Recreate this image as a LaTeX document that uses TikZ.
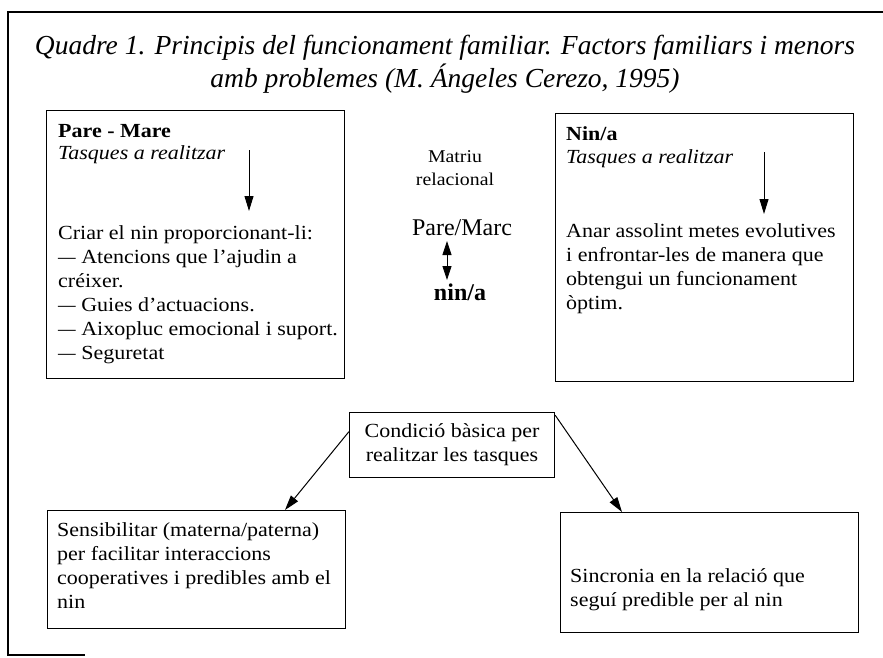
\documentclass[tikz,border=0pt]{standalone}
\usepackage{fontspec}
\usepackage{graphicx}
\setmainfont{Liberation Serif}
\newfontfamily\bodyfont[FakeStretch=1.1]{Liberation Serif}
\newcommand\mydash{\scalebox{0.8}[1]{—}}
\usetikzlibrary{arrows.meta,calc}
\begin{document}
\begin{tikzpicture}[x=1pt,y=-1pt,
  box/.style={draw,line width=1.3pt,inner sep=0pt,anchor=north west},
  body/.style={font=\bodyfont\fontsize{20}{24}\selectfont,align=left,inner sep=0pt,anchor=base west},
  arr/.style={-{Triangle[length=15pt,width=9pt]},line width=1pt},
  darr/.style={{Triangle[length=14pt,width=9pt]}-{Triangle[length=14pt,width=9pt]},line width=0.8pt},
]
\useasboundingbox (0,0) rectangle (883,658);
% outer frame
\draw[line width=1.3pt] (883,12) -- (8,12) -- (8,655) -- (85,655);
% title
\node[font=\fontsize{27.5}{33}\selectfont\itshape,align=center,inner sep=0pt] (title) at (445,64)
  {Quadre 1. Principis del funcionament familiar. Factors familiars i menors\\amb problemes (M. Ángeles Cerezo, 1995)};
% top left box
\node[box,minimum width=298pt,minimum height=268pt] (lbox) at (46,110) {};
\node[body,font=\bodyfont\fontsize{20}{23}\selectfont] (lhead) at (58,160) {\textbf{Pare - Mare}\\\textit{Tasques a realitzar}};
\node[body] (llist) at (58,359) {Criar el nin proporcionant-li:\\\mydash{} Atencions que l’ajudin a\\créixer.\\\mydash{} Guies d’actuacions.\\\mydash{} Aixopluc emocional i suport.\\\mydash{} Seguretat};
\coordinate (la1) at (249,150);
\coordinate (la2) at (249,211);
\draw[arr] (la1) -- (la2);
% top right box
\node[box,minimum width=298pt,minimum height=268pt] (rbox) at (555,113) {};
\node[body,font=\bodyfont\fontsize{20}{23}\selectfont] (rhead) at (566,163) {\textbf{Nin/a}\\\textit{Tasques a realitzar}};
\node[body] (rlist) at (566,309) {Anar assolint metes evolutives\\i enfrontar-les de manera que\\obtengui un funcionament\\òptim.};
\coordinate (ra1) at (764,152);
\coordinate (ra2) at (764,214);
\draw[arr] (ra1) -- (ra2);
% middle
\node[font=\bodyfont\fontsize{18}{23}\selectfont,align=center,inner sep=0pt] (matriu) at (455,168) {Matriu\\relacional};
\node[font=\fontsize{24}{28}\selectfont,inner sep=0pt] (pare) at (462,228) {Pare/Marc};
\node[font=\fontsize{24}{28}\selectfont\bfseries,inner sep=0pt] (nina) at (460,292) {nin/a};
\coordinate (d1) at (447,241);
\coordinate (d2) at (447,280);
\draw[darr] (d1) -- (d2);
% condition box
\node[draw,line width=1.3pt,font=\bodyfont\fontsize{20}{24}\selectfont,align=center,minimum width=205pt,minimum height=65pt,inner sep=0pt] (cond) at (452,445)
  {Condició bàsica per\\realitzar les tasques};
% bottom boxes
\node[box,minimum width=298pt,minimum height=118pt] (blbox) at (47,510) {};
\node[body] (bltext) at (57,608) {Sensibilitar (materna/paterna)\\per facilitar interaccions\\cooperatives i predibles amb el\\nin};
\node[box,minimum width=298pt,minimum height=120pt] (brbox) at (560,512) {};
\node[body] (brtext) at (570,606) {Sincronia en la relació que\\seguí predible per al nin};
% arrows
\coordinate (cl) at ($(cond.north west)!0.3!(cond.south west)$);
\coordinate (cr) at ($(cond.north east)!0.05!(cond.south east)$);
\coordinate (bl) at ([xshift=238pt]blbox.north west);
\coordinate (br) at ([xshift=62pt]brbox.north west);
\draw[arr] (cl) -- (bl);
\draw[arr] (cr) -- (br);
\end{tikzpicture}
\end{document}
